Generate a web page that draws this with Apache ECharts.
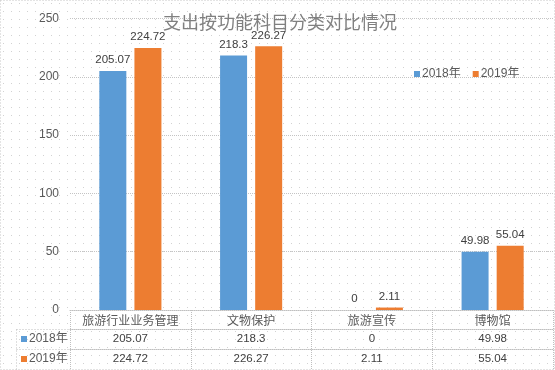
<!DOCTYPE html>
<html>
<head>
<meta charset="utf-8">
<script src="https://cdn.jsdelivr.net/npm/echarts@6/dist/echarts.min.js"></script>
<style>
html,body{margin:0;padding:0;background:#fff;}
#chart{width:555px;height:370px;}
</style>
</head>
<body>
<div id="chart"></div>
<script>
const categories = ['旅游行业业务管理', '文物保护', '旅游宣传', '博物馆'];
const seriesNames = ['2018年', '2019年'];
const values2018 = [205.07, 218.3, 0, 49.98];
const values2019 = [224.72, 226.27, 2.11, 55.04];
const yMin = 0, yMax = 250, yStep = 50;
const titleText = '支出按功能科目分类对比情况';

// dotted background texture
const pc = document.createElement('canvas');
pc.width = 8; pc.height = 8;
const pctx = pc.getContext('2d');
pctx.fillStyle = '#ffffff'; pctx.fillRect(0, 0, 8, 8);
pctx.fillStyle = '#d2d2d2'; pctx.fillRect(3, 3, 1, 1);
document.getElementById('chart').style.backgroundImage = 'url(' + pc.toDataURL() + ')';

const FONT = "'Liberation Sans','Noto Sans CJK SC',sans-serif";
const CJK = "'Noto Sans CJK SC',sans-serif";
const lineGrey = '#bfbfbf';
const dotted = { color: lineGrey, type: 'dotted', width: 1 };

const chart = echarts.init(document.getElementById('chart'), null, { renderer: 'canvas' });

const tableAxis = (data, offset) => ({
  type: 'category',
  data: data.map(v => String(v)),
  position: 'bottom',
  offset: offset,
  axisLine: { show: true, onZero: false, lineStyle: dotted },
  axisTick: { show: false },
  axisLabel: { interval: 0, margin: 4, fontSize: 11.5, color: '#404040', fontFamily: FONT },
  splitLine: { show: false }
});

chart.setOption({
  animation: false,
  color: ['#5B9BD5', '#ED7D31'],
  textStyle: { fontFamily: FONT },
  title: {
    text: titleText,
    left: 163, top: 13, padding: 0,
    textStyle: { fontSize: 18, fontWeight: 'normal', color: '#808080', fontFamily: CJK }
  },
  legend: [
    {
      data: seriesNames, left: 414, top: 68, padding: 0,
      itemWidth: 6, itemHeight: 6, itemGap: 12, icon: 'rect',
      textStyle: { fontSize: 12, color: '#595959', fontFamily: FONT, padding: [0, 0, 0, -3] }
    },
    {
      data: seriesNames, orient: 'vertical', left: 21, top: 332, padding: 0,
      itemWidth: 6, itemHeight: 6, itemGap: 6, icon: 'rect',
      textStyle: { fontSize: 12, lineHeight: 14, color: '#595959', fontFamily: FONT, padding: [0, 0, 0, -3] }
    }
  ],
  grid: { left: 70, right: 2, top: 18.5, bottom: 60, containLabel: false },
  xAxis: [
    {
      type: 'category',
      data: categories,
      position: 'bottom',
      axisLine: { show: true, onZero: false, lineStyle: dotted },
      axisTick: { show: true, length: 60, inside: false, lineStyle: dotted },
      axisLabel: { interval: 0, margin: 4, fontSize: 12, color: '#595959', fontFamily: CJK },
      splitLine: { show: false }
    },
    tableAxis(values2018, 19.5),
    tableAxis(values2019, 39.5)
  ],
  yAxis: {
    type: 'value',
    min: yMin, max: yMax, interval: yStep,
    axisLine: { show: false },
    axisTick: { show: false },
    axisLabel: { fontSize: 12, color: '#595959', margin: 11, fontFamily: FONT },
    splitLine: { show: true, lineStyle: { color: '#c4c4c4', type: 'dotted', width: 1 } }
  },
  series: [
    {
      name: seriesNames[0], type: 'bar', data: values2018,
      barWidth: 27, barGap: '30%',
      label: { show: true, position: 'top', distance: 5, fontSize: 11.5, color: '#404040', fontFamily: FONT }
    },
    {
      name: seriesNames[1], type: 'bar', data: values2019,
      barWidth: 27, barGap: '30%',
      label: { show: true, position: 'top', distance: 5, fontSize: 11.5, color: '#404040', fontFamily: FONT }
    }
  ],
  graphic: [
    { type: 'rect', silent: true, z: -1, shape: { x: 0.5, y: 0.5, width: 554, height: 369 },
      style: { fill: null, stroke: '#c8c8c8', lineWidth: 1, lineDash: [1, 2] } },
    { type: 'line', silent: true, shape: { x1: 16.5, y1: 329.5, x2: 16.5, y2: 370 }, style: { stroke: lineGrey, lineDash: [1, 2] } },
    { type: 'line', silent: true, shape: { x1: 16.5, y1: 329.5, x2: 70, y2: 329.5 }, style: { stroke: lineGrey, lineDash: [1, 2] } },
    { type: 'line', silent: true, shape: { x1: 16.5, y1: 349.5, x2: 70, y2: 349.5 }, style: { stroke: lineGrey, lineDash: [1, 2] } }
  ]
});
</script>
</body>
</html>
